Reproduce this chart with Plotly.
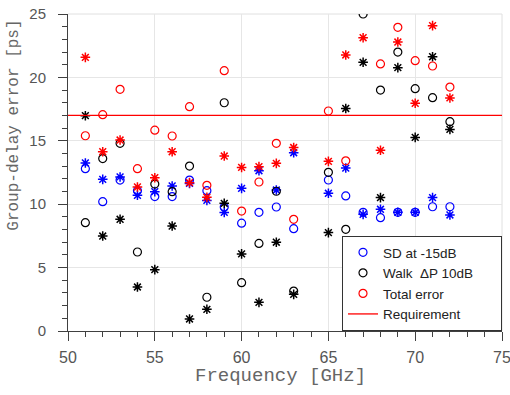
import plotly.graph_objects as go

# Frequencies (GHz) - no data at 64 GHz
freq = [51, 52, 53, 54, 55, 56, 57, 58, 59, 60, 61, 62, 63, 65, 66, 67, 68, 69, 70, 71, 72]

# SD at -15dB (circles / asterisks)
sd_o = [12.8, 10.2, 11.9, 11.07, 10.6, 10.6, 11.9, 11.07, 9.77, 8.5, 9.36, 9.78, 8.07,
        11.91, 10.65, 9.36, 8.94, 9.36, 9.36, 9.8, 9.8]
sd_x = [13.25, 11.96, 12.15, 10.7, 10.99, 11.44, 11.64, 10.3, 9.35, 11.25, 12.64, 11.12, 14.06,
        10.86, 12.85, 9.2, 9.6, 9.36, 9.36, 10.52, 9.15]

# Walk dP 10dB
walk_o = [8.54, 13.6, 14.8, 6.23, 11.59, 10.99, 13.01, 2.66, 18.0, 3.81, 6.91, 11.02, 3.15,
          12.51, 8.02, 25.0, 19.0, 22.0, 19.11, 18.4, 16.51]
walk_x = [16.98, 7.49, 8.81, 3.47, 4.84, 8.28, 0.95, 1.71, 10.07, 6.08, 2.26, 7.0, 2.89,
          7.76, 17.55, 21.19, 10.52, 20.77, 15.27, 21.63, 15.9]

# Total error
tot_o = [15.4, 17.06, 19.06, 12.8, 15.84, 15.38, 17.69, 11.49, 20.53, 9.46, 11.75, 14.8, 8.81,
         17.35, 13.42, None, 21.06, 23.95, 21.32, 20.9, 19.24]
tot_x = [21.58, 14.14, 15.06, 11.36, 12.09, 14.14, 11.7, 10.54, 13.8, 12.9, 12.96, 13.22, 14.47,
         13.38, 21.77, 23.13, 14.25, 22.79, 17.96, 24.08, 18.38]

# Requirement
req_x = [50, 75]
req_y = [17, 17]

x_ticks = [50, 55, 60, 65, 70, 75]
y_ticks = [0, 5, 10, 15, 20, 25]

BLUE = "rgb(0,0,255)"
BLACK = "rgb(0,0,0)"
RED = "rgb(255,0,0)"
PAD = "\u00a0" * 6

fig = go.Figure()

def circ(y, color, name):
    fig.add_trace(go.Scatter(x=freq, y=y, mode="markers", name=name,
                             marker=dict(symbol="circle-open", size=8, color=color,
                                         line=dict(color=color, width=1.2))))

def star(y, color):
    fig.add_trace(go.Scatter(x=freq, y=y, mode="markers", showlegend=False,
                             marker=dict(symbol="asterisk-open", size=8, color=color,
                                         line=dict(color=color, width=1.5))))

circ(sd_o, BLUE, "SD at -15dB")
star(sd_x, BLUE)
circ(walk_o, BLACK, "Walk  ΔP 10dB" + PAD)
star(walk_x, BLACK)
circ(tot_o, RED, "Total error")
star(tot_x, RED)
fig.add_trace(go.Scatter(x=req_x, y=req_y, mode="lines", name="Requirement",
                         line=dict(color=RED, width=1.3)))

axis_common = dict(
    automargin=False,
    showline=True, linecolor="#404040", linewidth=1,
    ticks="outside", ticklen=9, tickcolor="#404040", tickwidth=1,
    showgrid=True, gridcolor="#e6e6e6", gridwidth=1,
    zeroline=False, mirror=False,
    ticklabeloverflow="allow",
    minor=dict(ticks="outside", ticklen=5, dtick=1, tickcolor="#404040", showgrid=False),
)

fig.update_xaxes(range=[50, 75], tickvals=x_ticks, ticklabelstandoff=3,
                 tickfont=dict(family="Liberation Sans, Arial", size=16, color="#555555"),
                 **axis_common)
fig.update_yaxes(range=[0, 25], tickvals=y_ticks, ticklabelstandoff=9,
                 tickfont=dict(family="Liberation Sans, Arial", size=15, color="#555555"),
                 **axis_common)

fig.update_layout(
    width=510, height=395,
    margin=dict(l=68, r=8, t=14, b=64),
    plot_bgcolor="white", paper_bgcolor="white",
    showlegend=True,
    legend=dict(x=1, y=0, xanchor="right", yanchor="bottom",
                bgcolor="white", bordercolor="#333333", borderwidth=1,
                font=dict(family="Liberation Sans, Arial", size=13.5, color="#222222"),
                tracegroupgap=0),
    shapes=[
        dict(type="line", xref="paper", yref="paper", x0=0, x1=1, y0=1, y1=1,
             line=dict(color="#e0e0e0", width=1), layer="below"),
        dict(type="line", xref="paper", yref="paper", x0=1, x1=1, y0=0, y1=1,
             line=dict(color="#e0e0e0", width=1), layer="below"),
    ],
    annotations=[
        dict(text="Frequency [GHz]", xref="paper", yref="paper", x=0.49, y=-0.142,
             xanchor="center", yanchor="middle", showarrow=False,
             font=dict(family="Liberation Mono, Courier New, monospace", size=19, color="#666666")),
        dict(text="Group-delay error [ps]", xref="paper", yref="paper", x=-0.125, y=0.65,
             xanchor="center", yanchor="middle", showarrow=False, textangle=-90,
             font=dict(family="Liberation Mono, Courier New, monospace", size=16, color="#666666")),
    ],
)

fig.write_html("out.html", config={"displayModeBar": False},
               post_script="document.body.style.margin='0px';")
